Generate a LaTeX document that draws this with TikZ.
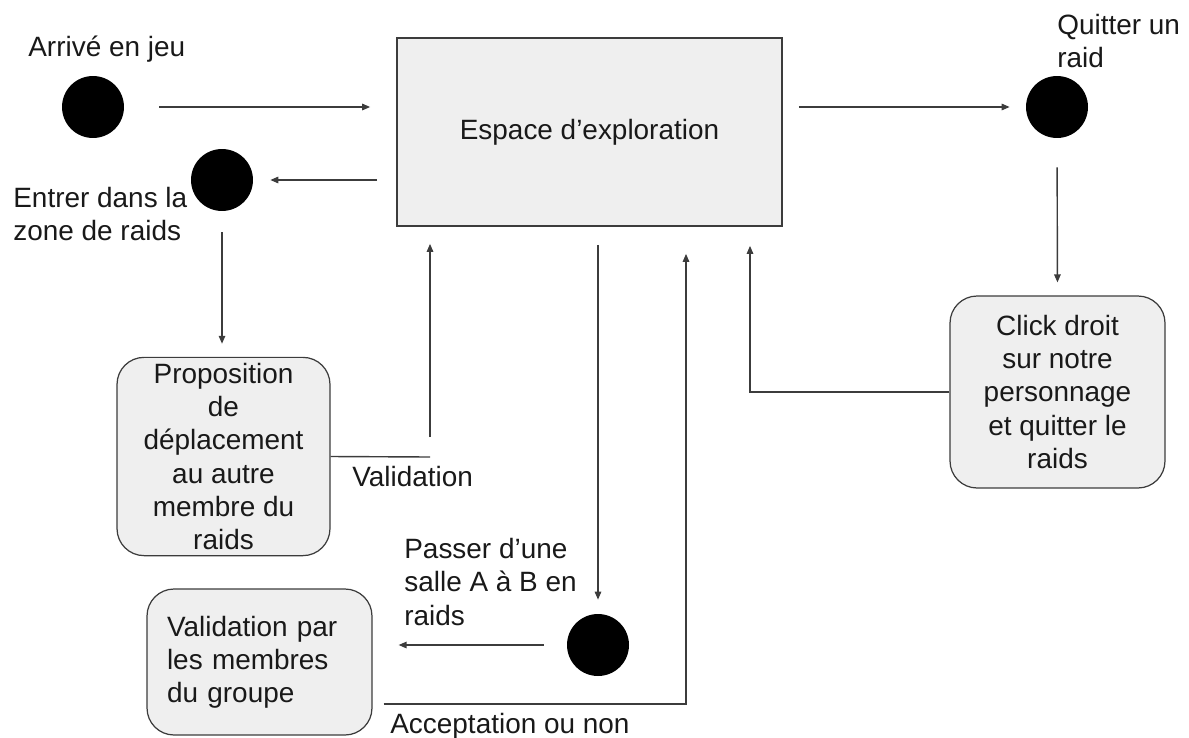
\documentclass[tikz,border=0pt]{standalone}
\usepackage{fontspec}
\setmainfont{Liberation Sans}
\usetikzlibrary{arrows.meta}

\definecolor{fondgris}{HTML}{EFEFEF}
\definecolor{traitgris}{HTML}{3C3C3C}

\begin{document}
\begin{tikzpicture}[x=0.02cm,y=-0.02cm]

    % Diagram style
    \tikzset{
        texte/.style={font=\fontsize{15.9}{18.9}\selectfont,text=black!90},
        etat/.style={circle,fill=black,minimum size=1.24cm,inner sep=0pt},
        espacebox/.style={texte,draw=traitgris,line width=1pt,fill=fondgris,
            minimum width=7.7cm,minimum height=3.76cm},
        actionbox/.style={texte,draw=traitgris,line width=0.7pt,fill=fondgris,
            rounded corners=0.54cm,align=center},
        legende/.style={texte,inner sep=0pt,align=left,anchor=north west},
        trait/.style={draw=traitgris,line width=0.8pt},
        fleche/.style={trait,-{Triangle[length=1.6mm,width=1.3mm]}}
    }

    \useasboundingbox (0,0) rectangle (1189,737);

    % States
    \node[etat] (ARRIVE) at (93,107) {};
    \node[etat] (ZONE) at (222,180) {};
    \node[etat] (QUIT) at (1057,107) {};
    \node[etat] (PASSER) at (598,645) {};

    % Boxes
    \node[espacebox] (ESPACE) at (589.5,132) {Espace d’exploration};
    \node[actionbox,minimum width=4.26cm,minimum height=3.86cm] (PROP) at (223.5,456.5)
        {Proposition\\de\\déplacement\\au autre\\membre du\\raids};
    \node[actionbox,minimum width=4.3cm,minimum height=3.84cm] (CLICK) at (1057.5,392)
        {Click droit\\sur notre\\personnage\\et quitter le\\raids};
    \node[actionbox,minimum width=4.5cm,minimum height=2.92cm,text width=3.7cm,
        inner xsep=0.4cm,align=left] (GROUPE) at (259.5,662)
        {Validation par\\les membres\\du groupe};

    % Labels
    \node[legende] (L-ARRIVE) at (28,36) {Arrivé en jeu};
    \node[legende] (L-ZONE) at (13,187) {Entrer dans la\\zone de raids};
    \node[legende] (L-QUIT) at (1057,14) {Quitter un\\raid};
    \node[legende] (L-VALID) at (352,466) {Validation};
    \node[legende] (L-PASSER) at (404,538) {Passer d’une\\salle A à B en\\raids};
    \node[legende] (L-ACCEPT) at (390,713) {Acceptation ou non};

    % Connectors
    \draw[fleche,shorten <=0.7cm,shorten >=0.52cm] (ARRIVE.east) -- (ARRIVE -| ESPACE.west);
    \draw[fleche,shorten <=0.38cm,shorten >=0.34cm] (ESPACE.west |- ZONE) -- (ZONE.east);
    \draw[fleche,shorten <=0.42cm,shorten >=0.26cm] (ZONE.south) -- (ZONE.south |- PROP.north);

    \coordinate (VALID) at (430,457);
    \draw[trait] (PROP.east) -- (VALID);
    \draw[fleche,shorten <=0.4cm,shorten >=0.34cm] (VALID) -- (VALID |- ESPACE.south);

    \draw[fleche,shorten <=0.32cm,shorten >=0.32cm] (ESPACE.east |- QUIT) -- (QUIT.west);
    \draw[fleche,shorten <=0.58cm,shorten >=0.26cm] (QUIT.south) -- (CLICK.north);

    \coordinate (RETOUR) at (750,392);
    \draw[fleche,shorten >=0.38cm] (CLICK.west) -- (RETOUR) -- (RETOUR |- ESPACE.south);

    \draw[fleche,shorten <=0.36cm,shorten >=0.28cm] (ESPACE.south -| PASSER) -- (PASSER.north);
    \draw[fleche,shorten <=0.46cm,shorten >=0.52cm] (PASSER.west) -- (PASSER -| GROUPE.east);

    \coordinate (ACCEPT) at (686,704);
    \draw[fleche,shorten <=0.22cm,shorten >=0.54cm] (ACCEPT -| GROUPE.east) -- (ACCEPT)
        -- (ACCEPT |- ESPACE.south);
\end{tikzpicture}
\end{document}
